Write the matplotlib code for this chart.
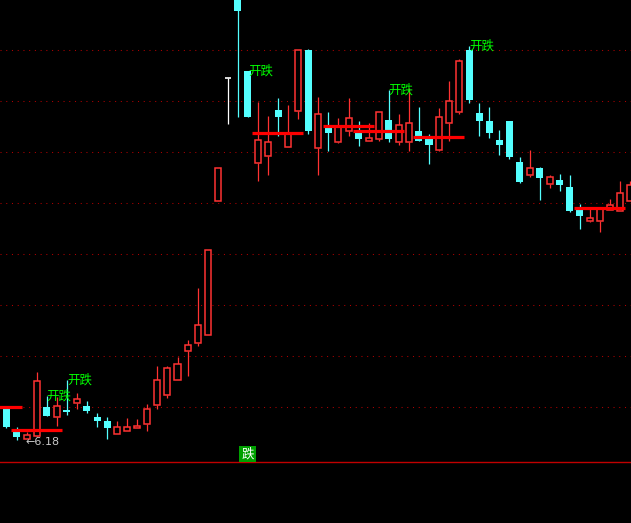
# Candlestick chart, black background, stock-software style
import matplotlib
matplotlib.use("Agg")
import matplotlib.pyplot as plt

plt.rcParams['font.family'] = ['Noto Sans CJK SC', 'DejaVu Sans']

CYAN = '#54ffff'
RED = '#ff3232'
GREEN = '#00ff00'

opens = [6.50, 6.28, 6.19, 6.22, 6.51, 6.41, 6.48, 6.55, 6.52, 6.41,
         6.37, 6.24, 6.27, 6.30, 6.34, 6.53, 6.63, 6.78, 7.07, 7.15,
         7.23, 8.57, 9.80, 10.66, 9.87, 8.95, 9.02, 9.48, 9.11, 9.47,
         10.08, 9.10, 9.31, 9.16, 9.27, 9.26, 9.17, 9.19, 9.38, 9.16,
         9.16, 9.27, 9.20, 9.08, 9.35, 9.46, 10.08, 9.45, 9.37, 9.18,
         9.37, 8.96, 8.83, 8.90, 8.74, 8.78, 8.71, 8.49, 8.37, 8.37,
         8.48, 8.47, 8.57]
highs = [6.50, 6.31, 6.26, 6.86, 6.62, 6.61, 6.78, 6.65, 6.57, 6.45,
         6.41, 6.37, 6.40, 6.39, 6.54, 6.92, 6.92, 7.01, 7.18, 7.70,
         8.08, 8.90, 9.80, 10.66, 9.87, 9.56, 9.42, 9.60, 9.53, 10.08,
         10.09, 9.61, 9.46, 9.40, 9.60, 9.37, 9.35, 9.46, 9.68, 9.44,
         9.70, 9.51, 9.24, 9.50, 9.77, 9.99, 10.12, 9.55, 9.51, 9.28,
         9.37, 9.01, 9.08, 8.91, 8.83, 8.84, 8.83, 8.54, 8.51, 8.50,
         8.59, 8.77, 8.77]
lows = [6.30, 6.18, 6.19, 6.21, 6.42, 6.32, 6.43, 6.49, 6.45, 6.31,
        6.19, 6.24, 6.27, 6.30, 6.27, 6.49, 6.60, 6.78, 6.82, 7.12,
        7.23, 8.57, 9.34, 9.41, 9.41, 8.77, 8.83, 9.22, 9.11, 9.39,
        9.24, 8.83, 9.07, 9.15, 9.22, 9.12, 9.17, 9.17, 9.16, 9.13,
        9.07, 9.17, 8.94, 9.07, 9.17, 9.44, 9.55, 9.22, 9.20, 9.03,
        8.99, 8.75, 8.81, 8.58, 8.70, 8.67, 8.46, 8.29, 8.36, 8.26,
        8.48, 8.47, 8.57]
closes = [6.31, 6.21, 6.23, 6.77, 6.42, 6.52, 6.46, 6.59, 6.47, 6.37,
          6.30, 6.31, 6.31, 6.32, 6.49, 6.78, 6.90, 6.94, 7.13, 7.33,
          8.08, 8.90, 9.80, 10.47, 9.41, 9.18, 9.16, 9.41, 9.25, 10.08,
          9.27, 9.44, 9.25, 9.31, 9.40, 9.19, 9.20, 9.46, 9.19, 9.33,
          9.35, 9.17, 9.13, 9.41, 9.57, 9.97, 9.58, 9.37, 9.25, 9.13,
          9.01, 8.76, 8.90, 8.80, 8.81, 8.73, 8.47, 8.42, 8.40, 8.50,
          8.53, 8.65, 8.73]

# support segments: first candle index of each 5-bar segment and its price
seg_start = [-3, 1, 25, 32, 35, 41, 57]
seg_price = [6.51, 6.28, 9.25, 9.32, 9.27, 9.21, 8.50]

grid_levels = [10.08, 9.57, 9.06, 8.55, 8.04, 7.53, 7.02, 6.51]
base_level = 5.96

label_idx = [4, 6, 24, 38, 46]   # "开跌" markers
low_mark = (1, 6.18)              # lowest low annotation
fall_mark = (24, 6.04)            # "跌" box

fig = plt.figure(figsize=(6.31, 5.23), dpi=100, facecolor='black')
ax = fig.add_axes([0, 0, 1, 1])
ax.set_facecolor('black')
ax.set_xlim(-0.646, 62.08)
ax.set_ylim(5.35, 10.58)
ax.axis('off')

for g in grid_levels:
    ax.axhline(g, color='#b00000', lw=0.75, ls=(0, (1, 4.5)), zorder=1)
ax.axhline(base_level, color='#c00000', lw=1.0, zorder=1)

for i in range(len(opens)):
    o, h, l, c = opens[i], highs[i], lows[i], closes[i]
    if c > o:
        ax.vlines(i, c, h, color=RED, lw=0.9, zorder=3)
        ax.vlines(i, l, o, color=RED, lw=0.9, zorder=3)
        ax.bar(i, c - o, bottom=o, width=0.6, facecolor='black',
               edgecolor=RED, lw=1.1, zorder=4)
    elif c < o:
        ax.vlines(i, l, h, color=CYAN, lw=0.9, zorder=3)
        ax.bar(i, o - c, bottom=c, width=0.7, color=CYAN, lw=0, zorder=4)
    else:
        ax.vlines(i, l, h, color='white', lw=0.9, zorder=3)
        ax.hlines(o, i - 0.3, i + 0.3, color='white', lw=1.2, zorder=4)

for s, p in zip(seg_start, seg_price):
    ax.hlines(p, s - 0.55, s + 4.5, color='#ff0000', lw=2.3, zorder=5)

for i in label_idx:
    ax.text(i, highs[i], '开跌', color=GREEN, fontsize=9,
            ha='left', va='center', zorder=6)

ax.text(low_mark[0] + 0.9, low_mark[1] - 0.02, '←6.18', color='#c8c8c8',
        fontsize=8, family='DejaVu Sans', ha='left', va='center', zorder=6)

ax.text(fall_mark[0] - 0.05, fall_mark[1], '跌', color='white', fontsize=9,
        ha='center', va='center', zorder=6,
        bbox=dict(boxstyle='square,pad=0.15', facecolor='#00a000',
                  edgecolor='none'))

fig.savefig('out.png', dpi=100, facecolor='black')
